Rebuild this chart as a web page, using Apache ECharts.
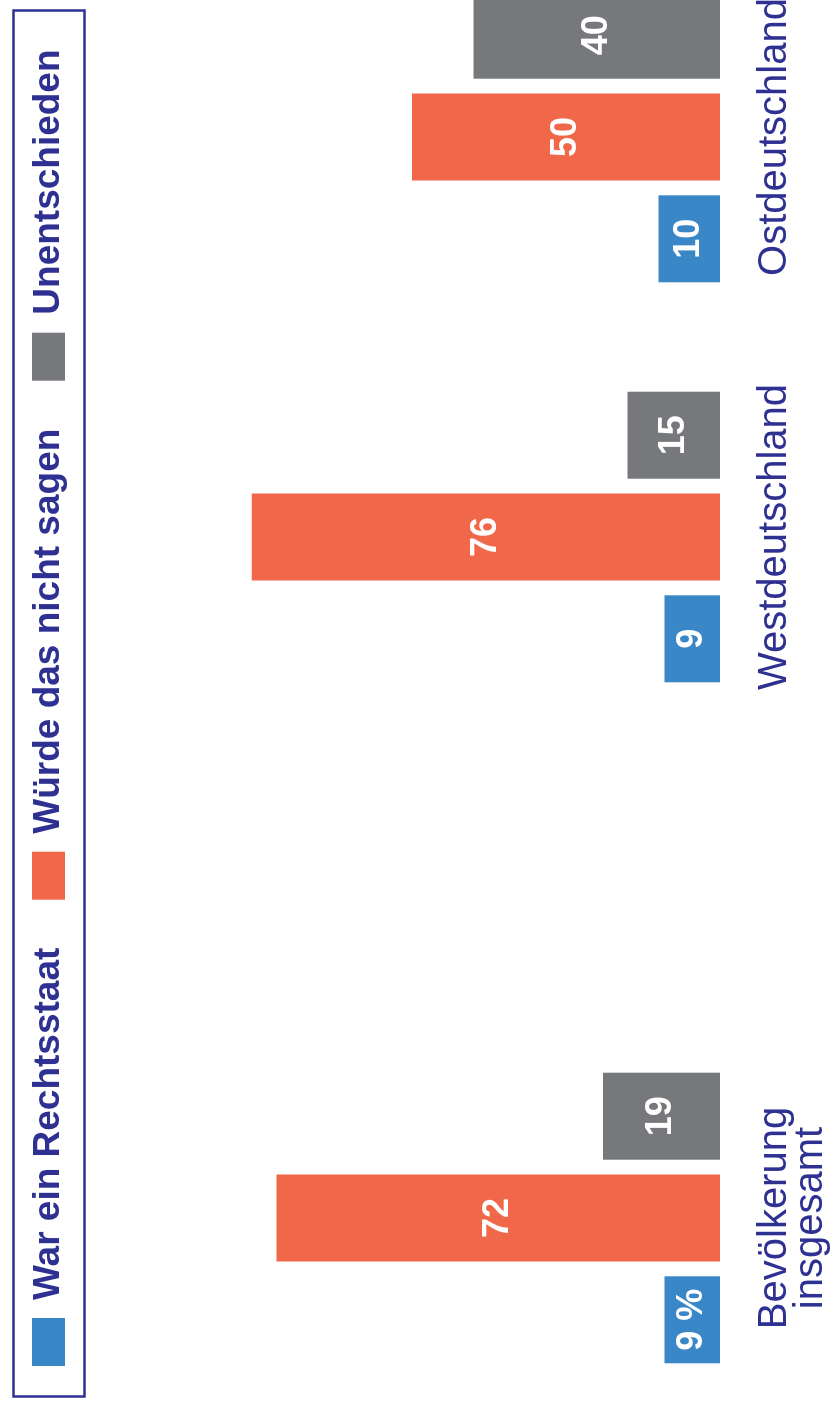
<!DOCTYPE html>
<html>
<head>
<meta charset="utf-8">
<script src="https://cdn.jsdelivr.net/npm/echarts@6/dist/echarts.min.js"></script>
<style>
  html, body { margin: 0; padding: 0; background: #ffffff; overflow: hidden; }
  #wrap { position: absolute; left: 0; top: 0; width: 835px; height: 1410px; overflow: hidden; }
  #chart { position: absolute; left: 0; top: 0; width: 1410px; height: 835px;
           transform-origin: 0 0; transform: translate(0px, 1410px) rotate(-90deg); }
</style>
</head>
<body>
<div id="wrap"><div id="chart"></div></div>
<script>
// ---- data ----
const categories = ['Bevölkerung\ninsgesamt', 'Westdeutschland', 'Ostdeutschland'];
const seriesNames = ['War ein Rechtsstaat', 'Würde das nicht sagen', 'Unentschieden'];
const rechtsstaat = [9, 9, 10];
const nichtSagen = [72, 76, 50];
const unentschieden = [19, 15, 40];

// ---- styles ----
const colors = ['#3a87c8', '#f16749', '#77787c'];
const navy = '#2e3192';
const values = [rechtsstaat, nichtSagen, unentschieden];

// two grids: first holds the overall population, second the two regions
const groups = [[0], [1, 2]];
const gridDefs = [
  { left: 2, width: 380, top: 104, bottom: 115, outerBoundsMode: 'none', containLabel: false },
  { left: 673, width: 800, top: 104, bottom: 115, outerBoundsMode: 'none', containLabel: false }
];

const chart = echarts.init(document.getElementById('chart'), null, { renderer: 'canvas' });

const xAxes = groups.map((g, gi) => ({
  type: 'category',
  gridIndex: gi,
  data: g.map(i => categories[i]),
  axisLine: { show: false },
  axisTick: { show: false },
  axisLabel: {
    interval: 0,
    margin: 37,
    color: navy,
    fontFamily: 'Liberation Sans, Arial, sans-serif',
    fontSize: 40,
    lineHeight: 36
  }
}));
const yAxes = groups.map((g, gi) => ({
  type: 'value', gridIndex: gi, min: 0, max: 100, show: false
}));

const series = [];
groups.forEach((g, gi) => {
  seriesNames.forEach((name, si) => {
    series.push({
      type: 'bar',
      name: name,
      xAxisIndex: gi,
      yAxisIndex: gi,
      data: g.map(i => values[si][i]),
      barWidth: 87,
      barGap: '17%',
      itemStyle: { color: colors[si] },
      label: {
        show: true,
        position: 'inside',
        color: '#ffffff',
        fontFamily: 'Liberation Sans, Arial, sans-serif',
        fontWeight: 'bold',
        fontSize: 36,
        formatter: (p) => (gi === 0 && si === 0 && p.dataIndex === 0) ? p.value + ' %' : String(p.value)
      }
    });
  });
});

chart.setOption({
  animation: false,
  backgroundColor: '#ffffff',
  grid: gridDefs,
  xAxis: xAxes,
  yAxis: yAxes,
  legend: {
    data: seriesNames,
    left: 44,
    top: 30,
    padding: 0,
    itemWidth: 48,
    itemHeight: 33,
    itemGap: 48,
    icon: 'rect',
    selectedMode: false,
    textStyle: {
      color: navy,
      fontFamily: 'Liberation Sans, Arial, sans-serif',
      fontWeight: 'bold',
      fontSize: 37,
      padding: [0, 0, 0, 13]
    }
  },
  graphic: [{
    type: 'rect',
    left: 11, top: 11,
    shape: { width: 1386, height: 71 },
    style: { fill: 'none', stroke: navy, lineWidth: 2.5 },
    silent: true
  }],
  series: series
});
</script>
</body>
</html>
